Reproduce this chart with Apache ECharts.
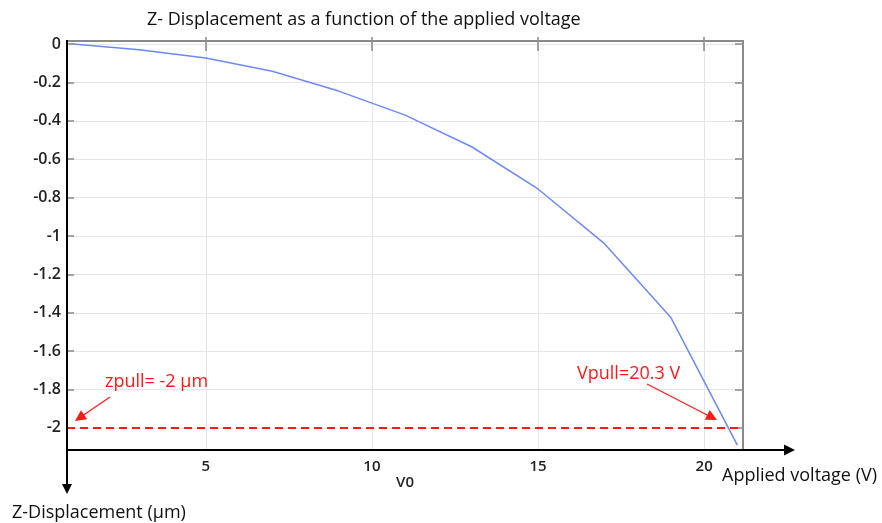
<!DOCTYPE html>
<html>
<head>
<meta charset="utf-8">
<script src="https://cdn.jsdelivr.net/npm/echarts@6/dist/echarts.min.js"></script>
<style>
html, body { margin: 0; padding: 0; background: #fff; }
#chart { width: 882px; height: 523px; }
</style>
</head>
<body>
<div id="chart"></div>
<script>
// applied voltage V0 (V) and z-displacement (um)
var voltage = [1, 3, 5, 7, 9, 11, 13, 15, 17, 19, 21];
var displacement = [0, -0.03, -0.073, -0.142, -0.245, -0.37, -0.535, -0.755, -1.04, -1.425, -2.09];
var xTicks = [5, 10, 15, 20];
var yTicks = [0, -0.2, -0.4, -0.6, -0.8, -1, -1.2, -1.4, -1.6, -1.8, -2];
var zPull = -2;

var FONT = '"Open Sans", "DejaVu Sans", sans-serif';
var RED = '#ff1a1a';

// little helper: straight line with a filled triangle at the end
function arrow(x1, y1, x2, y2, color, width, head) {
    var dx = x2 - x1, dy = y2 - y1;
    var len = Math.sqrt(dx * dx + dy * dy);
    var ux = dx / len, uy = dy / len;
    var bx = x2 - ux * head, by = y2 - uy * head;
    var px = -uy * head * 0.5, py = ux * head * 0.5;
    return [{
        type: 'line',
        z: 100,
        shape: { x1: x1, y1: y1, x2: bx + ux, y2: by + uy },
        style: { stroke: color, lineWidth: width }
    }, {
        type: 'polygon',
        z: 100,
        shape: { points: [[x2, y2], [bx + px, by + py], [bx - px, by - py]] },
        style: { fill: color }
    }];
}

function label(text, x, y, size, color, weight, align) {
    return {
        type: 'text',
        z: 100,
        style: {
            text: text,
            x: x,
            y: y,
            fill: color,
            font: (weight || 'normal') + ' ' + size + 'px ' + FONT,
            textAlign: align || 'left',
            textVerticalAlign: 'middle'
        }
    };
}

var myChart = echarts.init(document.getElementById('chart'));

var graphics = []
    .concat(arrow(67, 40, 67, 494, '#000', 2, 10))
    .concat(arrow(66, 450, 795, 450, '#000', 2, 11))
    .concat(arrow(110, 397, 75, 421, RED, 1.2, 11))
    .concat(arrow(647, 384, 717, 420, RED, 1.2, 11))
    .concat([
        label('zpull= -2 µm', 105, 382, 18, RED),
        label('Vpull=20.3 V', 577, 374, 18, RED),
        label('Applied voltage (V)', 722, 476, 18, '#111'),
        label('Z-Displacement (µm)', 12, 513, 18, '#111'),
        label('V0', 405, 483, 15, '#222', '600', 'center')
    ]);

var option = {
    animation: false,
    title: {
        text: 'Z- Displacement as a function of the applied voltage',
        left: 142,
        top: 6,
        textStyle: { fontFamily: FONT, fontSize: 18, fontWeight: 'normal', color: '#111' }
    },
    grid: {
        left: 67,
        right: 139,
        top: 41,
        bottom: 73,
        show: true,
        borderColor: '#8a8a8a',
        borderWidth: 2
    },
    xAxis: [{
        type: 'value',
        min: 0.822,
        max: 21.17,
        axisLine: { show: false },
        axisTick: { show: true, inside: true, length: 7, customValues: xTicks, lineStyle: { color: '#888', width: 1.5 } },
        axisLabel: { customValues: xTicks, margin: 9, color: '#222', fontFamily: FONT, fontSize: 15, fontWeight: '600' },
        splitLine: { show: true, lineStyle: { color: '#e6e6e6', width: 1 } }
    }, {
        type: 'value',
        position: 'top',
        min: 0.822,
        max: 21.17,
        axisLine: { show: false },
        axisTick: { show: true, inside: true, length: 7, customValues: xTicks, lineStyle: { color: '#888', width: 1.5 } },
        axisLabel: { show: false },
        splitLine: { show: false }
    }],
    yAxis: [{
        type: 'value',
        min: -2.115,
        max: 0.016,
        axisLine: { show: false },
        axisTick: { show: true, inside: true, length: 7, customValues: yTicks, lineStyle: { color: '#888', width: 1.5 } },
        axisLabel: {
            customValues: yTicks,
            margin: 6,
            color: '#222',
            fontFamily: FONT,
            fontSize: 16,
            fontWeight: '600',
            formatter: function (v) { return String(Math.round(v * 10) / 10); }
        },
        splitLine: { show: true, lineStyle: { color: '#e6e6e6', width: 1 } }
    }, {
        type: 'value',
        position: 'right',
        min: -2.115,
        max: 0.016,
        axisLine: { show: false },
        axisTick: { show: true, inside: true, length: 8, customValues: yTicks, lineStyle: { color: '#888', width: 1.5 } },
        axisLabel: { show: false },
        splitLine: { show: false }
    }],
    series: [{
        name: 'Z-Displacement',
        type: 'line',
        data: voltage.map(function (v, i) { return [v, displacement[i]]; }),
        symbol: 'none',
        lineStyle: { color: '#6d89f7', width: 1.5 },
        markLine: {
            silent: true,
            symbol: 'none',
            label: { show: false },
            lineStyle: { color: RED, width: 2, type: [8, 5] },
            data: [{ yAxis: zPull }]
        }
    }],
    graphic: graphics
};

myChart.setOption(option);
</script>
</body>
</html>
